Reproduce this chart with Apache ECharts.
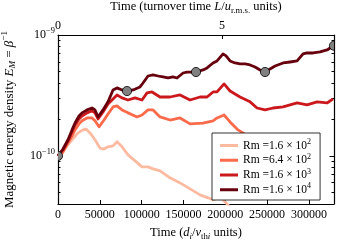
<!DOCTYPE html>
<html><head><meta charset="utf-8">
<script src="https://cdn.jsdelivr.net/npm/echarts@6/dist/echarts.min.js"></script>
<style>html,body{margin:0;padding:0;background:#fff}#c{width:341px;height:241px}</style>
</head><body><div id="c"></div>
<script>
const FONT = 'Liberation Serif';
const xMin = 0, xMax = 330000;
const yMin = 4e-11, yMax = 1e-9;
const turnover = 39220; // d_i/v_thi per turnover time
const xTicks = [0, 50000, 100000, 150000, 200000, 250000, 300000];
const topTicks = [0, 5];
const yMinor = [5e-11, 6e-11, 7e-11, 8e-11, 9e-11, 2e-10, 3e-10, 4e-10, 5e-10, 6e-10, 7e-10, 8e-10, 9e-10];

const seriesNames = ['Rm160', 'Rm640', 'Rm1600', 'Rm16000'];
const legendMant = ['1.6', '6.4', '1.6', '1.6'];
const legendExp = ['2', '2', '3', '4'];
const colors = ['#fcbba1', '#fb6a4a', '#cb181d', '#67000d'];

// Rm = 1.6e2
const t1 = [0, 4780, 10760, 16740, 23920, 29900, 33490, 38270, 44250, 50230, 55010, 59800, 65780, 70560, 76540, 83720, 92090, 100460, 107640, 113620, 121990, 133950, 145910, 157870, 169830, 179400, 185380, 193750, 200930, 208100];
const e1 = [1.0e-10, 1.04e-10, 1.21e-10, 1.36e-10, 1.55e-10, 1.64e-10, 1.67e-10, 1.55e-10, 1.36e-10, 1.16e-10, 1.14e-10, 1.19e-10, 1.21e-10, 1.31e-10, 1.19e-10, 1.02e-10, 0.91e-10, 8.11e-11, 8.11e-11, 7.81e-11, 7.52e-11, 6.58e-11, 5.98e-11, 5.34e-11, 4.76e-11, 4.50e-11, 4.33e-11, 4.58e-11, 4.09e-11, 3.6e-11];
// Rm = 6.4e2
const t2 = [0, 5980, 11960, 16740, 20330, 25120, 28700, 34680, 40660, 44250, 49040, 55010, 59800, 65780, 70560, 76540, 83720, 94480, 100460, 107640, 113620, 121990, 133950, 145910, 157870, 173420, 185380, 190160, 198530, 205710, 215280, 221260, 229630, 241590];
const e2 = [1.0e-10, 1.08e-10, 1.28e-10, 1.46e-10, 1.64e-10, 1.84e-10, 1.95e-10, 2.06e-10, 2.06e-10, 1.95e-10, 1.74e-10, 1.98e-10, 2.22e-10, 2.54e-10, 2.59e-10, 2.40e-10, 2.27e-10, 2.10e-10, 2.18e-10, 2.40e-10, 2.40e-10, 2.10e-10, 1.98e-10, 2.06e-10, 1.84e-10, 1.87e-10, 1.95e-10, 2.06e-10, 2.18e-10, 1.91e-10, 1.64e-10, 1.55e-10, 1.36e-10, 1.17e-10];
// Rm = 1.6e3
const t3 = [0, 5980, 11960, 16740, 20330, 25120, 28700, 34680, 40660, 44250, 47840, 53820, 59800, 65780, 70560, 76540, 83720, 92090, 100460, 106440, 112420, 121990, 133950, 145910, 157870, 169830, 178200, 185380, 190160, 198530, 205710, 217670, 229630, 238000, 247570, 257140, 269100, 285840, 297800, 309760, 321720, 328900];
const e3 = [1.0e-10, 1.12e-10, 1.33e-10, 1.58e-10, 1.80e-10, 2.02e-10, 2.14e-10, 2.27e-10, 2.36e-10, 2.27e-10, 2.02e-10, 2.31e-10, 2.69e-10, 2.96e-10, 3.19e-10, 3.02e-10, 2.90e-10, 3.02e-10, 2.90e-10, 3.32e-10, 3.38e-10, 3.07e-10, 3.07e-10, 3.19e-10, 2.90e-10, 3.07e-10, 3.07e-10, 3.38e-10, 3.38e-10, 3.94e-10, 3.44e-10, 3.07e-10, 2.80e-10, 2.49e-10, 2.40e-10, 2.49e-10, 2.54e-10, 2.74e-10, 2.64e-10, 2.80e-10, 2.74e-10, 2.96e-10];
// Rm = 1.6e4
const t4 = [0, 5980, 11960, 16740, 20330, 25120, 28700, 34680, 40660, 44250, 47840, 53820, 59800, 65780, 70560, 76540, 82520, 89700, 98070, 101660, 107640, 113620, 119600, 125580, 131560, 137540, 142320, 149500, 154280, 160260, 165050, 173420, 178200, 185380, 190160, 197340, 200930, 205710, 211690, 217670, 223650, 229630, 235610, 241590, 247570, 253550, 259530, 269100, 277470, 285840, 293020, 297800, 304980, 313350, 321720, 328900, 330000];
const e4 = [1.0e-10, 1.14e-10, 1.36e-10, 1.64e-10, 1.87e-10, 2.14e-10, 2.27e-10, 2.40e-10, 2.49e-10, 2.40e-10, 2.10e-10, 2.40e-10, 2.80e-10, 3.51e-10, 3.65e-10, 3.51e-10, 3.44e-10, 3.51e-10, 3.72e-10, 4.01e-10, 4.58e-10, 4.67e-10, 4.58e-10, 4.50e-10, 4.41e-10, 4.50e-10, 4.41e-10, 4.85e-10, 4.94e-10, 4.94e-10, 4.94e-10, 5.14e-10, 5.34e-10, 5.87e-10, 6.10e-10, 6.97e-10, 6.71e-10, 6.10e-10, 5.87e-10, 5.76e-10, 5.76e-10, 5.65e-10, 5.44e-10, 5.14e-10, 4.94e-10, 5.24e-10, 5.54e-10, 5.87e-10, 5.98e-10, 6.10e-10, 6.97e-10, 7.10e-10, 7.10e-10, 7.24e-10, 7.52e-10, 8.11e-10, 8.2e-10];

const markerT = [0, 82500, 165000, 247500, 330000];
const markerE = [1.0e-10, 3.44e-10, 4.94e-10, 4.94e-10, 8.15e-10];

const allT = [t1, t2, t3, t4];
const allE = [e1, e2, e3, e4];

const chart = echarts.init(document.getElementById('c'), null, {renderer: 'canvas'});
const black = '#000';
const mk = (fs) => ({fontFamily: FONT, fontSize: fs, color: black});
const richFor = (fs) => ({
  i: {fontFamily: FONT, fontSize: fs, fontStyle: 'italic', color: black},
  sub: {fontFamily: FONT, fontSize: fs * 0.7, fontStyle: 'italic', color: black, padding: [fs * 0.55, 0, 0, 0]},
  subr: {fontFamily: FONT, fontSize: fs * 0.7, color: black, padding: [fs * 0.55, 0, 0, 0]},
  sup: {fontFamily: FONT, fontSize: fs * 0.7, color: black, padding: [0, 0, fs * 0.65, 0]},
  b: {fontFamily: FONT, fontSize: fs, color: black}
});
const tickLine = {color: black, width: 1};
const axisLine = {show: true, onZero: false, lineStyle: {color: black, width: 1.2}};

const series = seriesNames.map((n, k) => ({
  name: n, type: 'line', xAxisIndex: 0, yAxisIndex: 0,
  data: allT[k].map((t, i) => [t, allE[k][i]]),
  showSymbol: false, symbol: 'none', clip: true,
  lineStyle: {color: colors[k], width: 2.8, join: 'round'}, itemStyle: {color: colors[k]},
  z: 2 + k, animation: false
}));
series.push({
  type: 'custom', xAxisIndex: 0, yAxisIndex: 0, clip: true, z: 10,
  data: markerT.map((t, i) => [t, markerE[i]]),
  renderItem: (p, api) => {
    const c = api.coord([api.value(0), api.value(1)]);
    return {type: 'circle', shape: {cx: c[0], cy: c[1], r: 4.6},
      style: {fill: '#808080', stroke: black, lineWidth: 0.8}};
  }
});

const logLabel = v => {
  const l = Math.log10(v), e = Math.round(l);
  if (Math.abs(l - e) > 1e-6) return '';
  return '{b|10}{sup|−' + (-e) + '}';
};

chart.setOption({
  animation: false,
  backgroundColor: '#fff',
  grid: {left: 58, right: 7, top: 35, bottom: 37, containLabel: false, outerBoundsMode: 'none'},
  xAxis: [
    {type: 'value', position: 'bottom', min: xMin, max: xMax,
      axisLine: axisLine, splitLine: {show: false},
      axisTick: {show: true, inside: true, length: 4, customValues: xTicks, lineStyle: tickLine},
      axisLabel: {customValues: xTicks, formatter: v => String(v), margin: 5, ...mk(12)},
      name: 'Time ({i|d}{sub|i}/{i|v}{subr|th}{sub|i} units)', nameLocation: 'middle', nameGap: 21,
      nameTextStyle: {...mk(12.5), rich: richFor(12.5)}},
    {type: 'value', position: 'top', min: 0, max: xMax / turnover,
      axisLine: axisLine, splitLine: {show: false},
      axisTick: {show: true, inside: true, length: 4, customValues: topTicks, lineStyle: tickLine},
      axisLabel: {customValues: topTicks, formatter: v => String(v), margin: 3, ...mk(12)},
      name: 'Time (turnover time {i|L}/{i|u}{subr|r.m.s.} units)', nameLocation: 'middle', nameGap: 18,
      nameTextStyle: {...mk(12.5), rich: richFor(12.5)}}
  ],
  yAxis: [
    {type: 'log', logBase: 10, position: 'left', min: yMin, max: yMax,
      axisLine: axisLine, splitLine: {show: false}, minorTick: {show: false},
      axisTick: {show: true, inside: true, length: 4.5, lineStyle: tickLine},
      axisLabel: {formatter: logLabel, margin: 3, ...mk(12), rich: richFor(12)},
      name: 'Magnetic energy density {i|E}{sub|M} = {i|β}{sup|−1}', nameLocation: 'middle', nameRotate: 90, nameGap: 40,
      nameTextStyle: {...mk(13), rich: richFor(13)}},
    {type: 'log', logBase: 10, position: 'right', min: yMin, max: yMax,
      axisLine: axisLine, splitLine: {show: false},
      axisTick: {show: true, inside: true, length: 4.5, lineStyle: tickLine},
      axisLabel: {show: false}},
    {type: 'value', position: 'left', min: Math.log10(yMin), max: Math.log10(yMax),
      axisLine: {show: false, onZero: false}, splitLine: {show: false},
      axisTick: {show: true, inside: true, length: 2.5, customValues: yMinor.map(Math.log10), lineStyle: tickLine},
      axisLabel: {show: false}},
    {type: 'value', position: 'right', min: Math.log10(yMin), max: Math.log10(yMax),
      axisLine: {show: false, onZero: false}, splitLine: {show: false},
      axisTick: {show: true, inside: true, length: 2.5, customValues: yMinor.map(Math.log10), lineStyle: tickLine},
      axisLabel: {show: false}}
  ],
  legend: {
    orient: 'vertical', left: 212, top: 133,
    data: seriesNames.map(n => ({name: n, icon: 'rect'})),
    itemWidth: 18, itemHeight: 3, itemGap: 0,
    padding: [5, 9, 3, 8],
    backgroundColor: '#fff', borderColor: black, borderWidth: 0.8, borderRadius: 0,
    selectedMode: false,
    formatter: name => {
      const k = seriesNames.indexOf(name);
      return 'Rm =' + legendMant[k] + ' × 10{sup|' + legendExp[k] + '}';
    },
    textStyle: {...mk(11.5), lineHeight: 14.5, rich: {sup: {fontFamily: FONT, fontSize: 8, color: black, padding: [0, 0, 7, 0]}}}
  },
  series: series
});
</script>
</body></html>
